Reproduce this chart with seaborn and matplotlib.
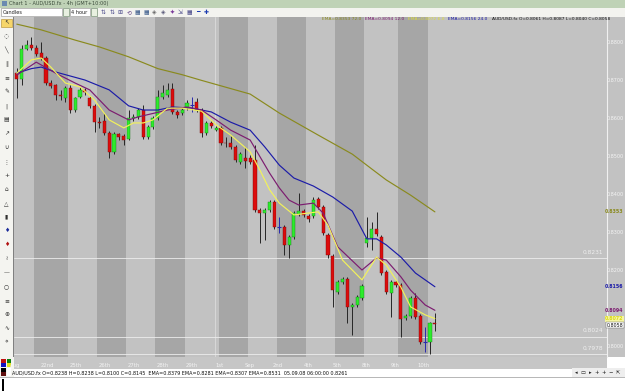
import numpy as np
import pandas as pd
import matplotlib
matplotlib.use("Agg")
import matplotlib.pyplot as plt
import seaborn as sns
from matplotlib.patches import Rectangle

# ---------------- data ----------------
opens = [0.8718, 0.8703, 0.8782, 0.8792, 0.8784, 0.8771, 0.8758, 0.8692, 0.8687, 0.8661,
         0.8653, 0.8679, 0.8621, 0.8655, 0.8674, 0.8653, 0.8632, 0.8589, 0.8592, 0.8561,
         0.8511, 0.8558, 0.8553, 0.8545, 0.8600, 0.8603, 0.8621, 0.8550, 0.8576, 0.8600,
         0.8655, 0.8661, 0.8676, 0.8616, 0.8613, 0.8626, 0.8634, 0.8642, 0.8621, 0.8561,
         0.8587, 0.8568, 0.8574, 0.8534, 0.8534, 0.8524, 0.8484, 0.8495, 0.8495, 0.8489,
         0.8358, 0.8350, 0.8358, 0.8379, 0.8313, 0.8313, 0.8266, 0.8287, 0.8347, 0.8355,
         0.8342, 0.8342, 0.8387, 0.8366, 0.8292, 0.8237, 0.8142, 0.8168, 0.8176, 0.8103,
         0.8108, 0.8126, 0.8271, 0.8284, 0.8308, 0.8287, 0.8195, 0.8139, 0.8168, 0.8161,
         0.8074, 0.8079, 0.8126, 0.8079, 0.8011, 0.8011, 0.8061]
highs = [0.8732, 0.8792, 0.8805, 0.8813, 0.8792, 0.8800, 0.8763, 0.8700, 0.8689, 0.8674,
         0.8684, 0.8687, 0.8655, 0.8682, 0.8679, 0.8658, 0.8637, 0.8603, 0.8613, 0.8566,
         0.8563, 0.8561, 0.8558, 0.8621, 0.8611, 0.8626, 0.8634, 0.8582, 0.8605, 0.8674,
         0.8687, 0.8692, 0.8692, 0.8621, 0.8626, 0.8647, 0.8655, 0.8653, 0.8626, 0.8592,
         0.8592, 0.8579, 0.8579, 0.8550, 0.8553, 0.8529, 0.8511, 0.8524, 0.8503, 0.8529,
         0.8363, 0.8363, 0.8384, 0.8384, 0.8339, 0.8318, 0.8292, 0.8355, 0.8403, 0.8361,
         0.8347, 0.8392, 0.8392, 0.8371, 0.8297, 0.8242, 0.8174, 0.8182, 0.8182, 0.8113,
         0.8134, 0.8163, 0.8339, 0.8326, 0.8353, 0.8292, 0.8200, 0.8174, 0.8174, 0.8166,
         0.8084, 0.8132, 0.8139, 0.8084, 0.8050, 0.8063, 0.8087]
lows = [0.8653, 0.8687, 0.8779, 0.8779, 0.8763, 0.8753, 0.8687, 0.8679, 0.8647, 0.8647,
        0.8642, 0.8613, 0.8616, 0.8653, 0.8661, 0.8626, 0.8563, 0.8574, 0.8555, 0.8495,
        0.8505, 0.8542, 0.8529, 0.8542, 0.8592, 0.8597, 0.8545, 0.8545, 0.8571, 0.8595,
        0.8650, 0.8655, 0.8611, 0.8600, 0.8608, 0.8621, 0.8616, 0.8616, 0.8550, 0.8555,
        0.8574, 0.8566, 0.8529, 0.8524, 0.8518, 0.8484, 0.8479, 0.8468, 0.8479, 0.8353,
        0.8271, 0.8279, 0.8353, 0.8308, 0.8297, 0.8239, 0.8232, 0.8282, 0.8342, 0.8339,
        0.8326, 0.8337, 0.8361, 0.8292, 0.8232, 0.8103, 0.8137, 0.8163, 0.8061, 0.8029,
        0.8103, 0.8121, 0.8261, 0.8253, 0.8289, 0.8187, 0.8137, 0.8076, 0.8155, 0.8024,
        0.8068, 0.8074, 0.8071, 0.8005, 0.7985, 0.7980, 0.8040]
closes = [0.8703, 0.8782, 0.8792, 0.8784, 0.8768, 0.8758, 0.8692, 0.8684, 0.8661, 0.8659,
          0.8679, 0.8621, 0.8653, 0.8674, 0.8668, 0.8632, 0.8589, 0.8587, 0.8561, 0.8511,
          0.8558, 0.8550, 0.8542, 0.8600, 0.8603, 0.8621, 0.8550, 0.8576, 0.8600, 0.8655,
          0.8666, 0.8674, 0.8616, 0.8608, 0.8621, 0.8639, 0.8634, 0.8621, 0.8561, 0.8587,
          0.8579, 0.8574, 0.8534, 0.8533, 0.8524, 0.8489, 0.8505, 0.8487, 0.8484, 0.8358,
          0.8350, 0.8358, 0.8379, 0.8313, 0.8313, 0.8266, 0.8287, 0.8350, 0.8355, 0.8345,
          0.8334, 0.8384, 0.8366, 0.8297, 0.8239, 0.8147, 0.8168, 0.8176, 0.8103, 0.8108,
          0.8129, 0.8158, 0.8284, 0.8308, 0.8295, 0.8192, 0.8142, 0.8168, 0.8161, 0.8071,
          0.8079, 0.8126, 0.8076, 0.8011, 0.8011, 0.8061, 0.8058]

# EMA lines (bar index, value)
ema72_idx = [0, 5, 12, 17, 23, 29, 34, 38, 48, 54, 58, 62, 69, 73, 76, 81, 86]
ema72_val = [0.8847, 0.8832, 0.8805, 0.8787, 0.8761, 0.8730, 0.8714, 0.8699, 0.8663,
             0.8613, 0.8584, 0.8555, 0.8505, 0.8466, 0.8437, 0.8397, 0.8353]
ema24_idx = [0, 3, 5, 8, 14, 19, 23, 26, 29, 32, 36, 40, 44, 48, 51, 54, 57, 61, 65,
             69, 72, 74, 76, 79, 82, 86]
ema24_val = [0.8718, 0.8730, 0.8734, 0.8721, 0.8700, 0.8674, 0.8632, 0.8621, 0.8621,
             0.8629, 0.8626, 0.8616, 0.8589, 0.8568, 0.8524, 0.8476, 0.8442, 0.8421,
             0.8392, 0.8355, 0.8282, 0.8282, 0.8266, 0.8234, 0.8192, 0.8156]
ema12_idx = [0, 4, 8, 12, 15, 19, 23, 25, 31, 35, 38, 41, 44, 48, 52, 54, 56, 58, 61,
             63, 66, 71, 74, 76, 79, 81, 84, 86]
ema12_val = [0.8713, 0.8747, 0.8718, 0.8692, 0.8674, 0.8621, 0.8595, 0.8603, 0.8621,
             0.8629, 0.8621, 0.8595, 0.8568, 0.8542, 0.8455, 0.8416, 0.8384, 0.8371,
             0.8376, 0.8350, 0.8261, 0.8200, 0.8232, 0.8226, 0.8182, 0.8147, 0.8108, 0.8094]
ema6_idx = [0, 3, 5, 7, 10, 13, 16, 19, 22, 24, 26, 28, 31, 34, 38, 41, 44, 48, 50, 52,
            54, 57, 60, 62, 64, 67, 71, 74, 76, 79, 81, 84, 86]
ema6_val = [0.8718, 0.8753, 0.8758, 0.8734, 0.8692, 0.8682, 0.8647, 0.8595, 0.8574,
            0.8587, 0.8587, 0.8595, 0.8626, 0.8626, 0.8618, 0.8582, 0.8555, 0.8511,
            0.8463, 0.8411, 0.8376, 0.8345, 0.8350, 0.8353, 0.8318, 0.8226, 0.8174,
            0.8234, 0.8213, 0.8155, 0.8103, 0.8082, 0.8072]

ema_names = ["EMA 72", "EMA 24", "EMA 12", "EMA 6"]
ema_periods = ["72.0", "24.0", "12.0", "6.0"]
ema_colors = ["#8a8a1e", "#1c1ca8", "#7c1c70", "#f2f25a"]

# day shading (bar-index boundaries of alternate days)
dark_days = [(3.5, 10.5), (16.5, 22.5), (28.5, 34.5), (41.5, 47.5), (53.5, 59.5),
             (65.5, 71.5), (78.5, 84.5)]
day_labels = ["Aug", "22nd", "25th", "26th", "27th", "28th", "29th", "1st", "Sep",
              "2nd", "4th", "5th", "8th", "9th", "10th"]
day_label_idx = [-0.4, 6.2, 12.1, 18.1, 24.1, 30.0, 36.0, 41.8, 47.9, 53.7, 59.9,
                 65.8, 71.8, 77.8, 83.7]
hlines_levels = [0.8231, 0.8024, 0.7978]
price_ticks = [0.80, 0.82, 0.83, 0.84, 0.85, 0.86, 0.87, 0.88]

# ---------------- figure ----------------
sns.set_theme(style="white")
plt.rcParams['font.family'] = ['DejaVu Sans', 'Noto Sans', 'Noto Sans CJK SC']

W, H = 625, 391
def fx(x): return x / W
def fy(y): return 1 - y / H

fig = plt.figure(figsize=(6.25, 3.91), dpi=100, facecolor="#ffffff")

def frect(x0, y0, x1, y1, color, z=0.1, **kw):
    fig.add_artist(Rectangle((fx(x0), fy(y1)), fx(x1) - fx(x0), fy(y0) - fy(y1),
                             transform=fig.transFigure, facecolor=color, zorder=z,
                             edgecolor=kw.get("ec", "none"), lw=kw.get("lw", 0)))

# window chrome
frect(0, 0, 625, 7.5, "#bfd2b6")
fig.text(fx(9), fy(3.8), "Chart 1 - AUD/USD.fx - 4h (GMT+10:00)", fontsize=3.6,
         color="#3a4a3a", va="center", ha="left", zorder=0.2)
frect(2, 1.5, 7, 6, "#6a8ab0")
frect(0, 7.5, 625, 17, "#f3f3ef")
frect(1, 8.5, 62, 16, "#ffffff", ec="#8a8a8a", lw=0.4)
fig.text(fx(3), fy(12.3), "Candles", fontsize=3.6, color="#202020", va="center", zorder=0.2)
frect(63, 8.5, 69, 16, "#e8f0e0", ec="#5a7a5a", lw=0.4)
frect(70, 8.5, 90, 16, "#ffffff", ec="#8a8a8a", lw=0.4)
fig.text(fx(71), fy(12.3), "4 hour", fontsize=3.6, color="#202020", va="center", zorder=0.2)
frect(91, 8.5, 97, 16, "#e8f0e0", ec="#5a7a5a", lw=0.4)
icons = ["⇅", "⇅", "⊞", "⟲", "▦", "▦", "◈", "◈", "✦", "⇲", "▦", "━", "✚"]
icon_cols = ["#4a4a8a", "#4a4a8a", "#4a4a8a", "#6a4a8a", "#3a5a8a", "#3a5a8a", "#6a6a6a",
             "#5a5a7a", "#7a3a9a", "#4a4a8a", "#4a4a8a", "#1a3ab0", "#1a3ab0"]
for k, (ic, cc) in enumerate(zip(icons, icon_cols)):
    fig.text(fx(103 + k * 8.6), fy(12.3), ic, fontsize=4.2, color=cc,
             va="center", ha="center", zorder=0.2)

# left toolbar
frect(0, 17, 13.5, 357, "#f4f4f0")
frect(13.2, 17, 13.8, 357, "#808080")
frect(1.5, 18.5, 11.5, 27, "#f6d66a", ec="#b08a2a", lw=0.4)
tools = ["↖", "◌", "╲", "∥", "≡", "✎", "|", "▤", "↗", "∪", "⋮", "+", "⌂", "△", "▮",
         "♦", "♦", "≀", "—", "○", "≡", "⊕", "∿", "⋄"]
for k, t in enumerate(tools):
    fig.text(fx(6.5), fy(22.5 + k * 13.9), t, fontsize=4.2,
             color="#b01010" if k == 16 else ("#1a2a9a" if k == 15 else "#303030"),
             va="center", ha="center", zorder=0.2)

# right price strip and x strip
frect(607, 17, 625, 357, "#c2c2c2")
frect(13.8, 357, 607, 368, "#c6c6c6")
frect(10, 368, 572, 377, "#ffffff", ec="#9a9a9a", lw=0.4)
frect(572, 368, 625, 377, "#eeeeee")
frect(0, 377, 625, 391, "#ffffff")
frect(0, 377, 625, 378.2, "#b8b8b8")
frect(2, 379, 3.6, 391, "#000000")
sw = [("#c01010", "#108010"), ("#1010c0", "#e0e020"), ("#000000", "#ffffff"),
      ("#601010", "#ffffff")]
frect(0, 357, 13.8, 377, "#f4f4f0")
for r, (c1, c2) in enumerate(sw):
    frect(1, 358.5 + r * 4.5, 5.5, 362.5 + r * 4.5, c1)
    frect(6.5, 358.5 + r * 4.5, 11, 362.5 + r * 4.5, c2)
fig.text(fx(12), fy(372.8),
         "AUD/USD.fx O=0.8238 H=0.8238 L=0.8100 C=0.8145  EMA=0.8379 EMA=0.8281 "
         "EMA=0.8307 EMA=0.8531  05.09.08 06:00:00 0.8261",
         fontsize=3.5, color="#101010", va="center", ha="left", zorder=0.2)
for k, s in enumerate(["◂", "▭", "▸", "+", "+", "−", "⇱"]):
    fig.text(fx(576 + k * 7), fy(372.6), s, fontsize=3.8, color="#202020",
             va="center", ha="center", zorder=0.2)

# ---------------- main chart ----------------
ax = fig.add_axes([fx(13.8), fy(357), fx(607) - fx(13.8), fy(17) - fy(357)])
ax.set_zorder(5)
ax.set_facecolor("#c2c2c2")
for s in ax.spines.values():
    s.set_visible(False)
ax.spines["right"].set_visible(True)
ax.spines["right"].set_color("#f0f0f0")
ax.spines["right"].set_linewidth(0.8)

for lo, hi in dark_days:
    ax.axvspan(lo, hi, color="#a6a6a6", lw=0, zorder=0)
ax.axvline(40.7, color="#dcdcdc", lw=0.6, zorder=0.5)

for lv in hlines_levels:
    ax.axhline(lv, color="#ececec", lw=0.6, zorder=0.6)
    ax.text(0.994, lv + 0.0009, f"{lv:.4f}", transform=ax.get_yaxis_transform(),
            fontsize=4.2, color="#efefef", ha="right", va="bottom")

n = len(opens)
idx = np.arange(n)
o = np.array(opens); h = np.array(highs); l = np.array(lows); c = np.array(closes)
up = c > o
dn = c < o
dj = c == o
ax.vlines(idx[~dj], l[~dj], h[~dj], color="#262626", lw=0.7, zorder=2)
ax.vlines(idx[dj], l[dj], h[dj], color="#2a2ab0", lw=0.7, zorder=2)
ax.bar(idx[up], c[up] - o[up], bottom=o[up], width=0.64, color="#2cec2c",
       edgecolor="#1a7a1a", lw=0.3, zorder=3)
ax.bar(idx[dn], o[dn] - c[dn], bottom=c[dn], width=0.64, color="#dc0c0c",
       edgecolor="#7a0a0a", lw=0.3, zorder=3)
ax.hlines(o[dj], idx[dj] - 0.4, idx[dj] + 0.4, color="#2a2ab0", lw=0.8, zorder=3)

rows = []
for name, ix, vals in zip(ema_names, [ema72_idx, ema24_idx, ema12_idx, ema6_idx],
                          [ema72_val, ema24_val, ema12_val, ema6_val]):
    for a, b in zip(ix, vals):
        rows.append({"bar": a, "value": b, "ema": name})
df = pd.DataFrame(rows)
sns.lineplot(data=df, x="bar", y="value", hue="ema", palette=dict(zip(ema_names, ema_colors)),
             lw=0.85, legend=False, ax=ax, sort=False, estimator=None, zorder=4)

ax.set_xlim(-0.62, 121.4)
ax.set_ylim(0.79711, 0.88658)
ax.set_xlabel("")
ax.set_ylabel("")
ax.set_xticks([])
ax.yaxis.tick_right()
ax.set_yticks(price_ticks)
ax.set_yticklabels([f"{t:.4f}" for t in price_ticks])
ax.tick_params(axis="y", length=0, pad=12.0, labelsize=3.5, labelcolor="#f4f4f4")
for lab in ax.get_yticklabels():
    lab.set_horizontalalignment("right")

# day labels below plot
for lab, xi in zip(day_labels, day_label_idx):
    ax.text(xi, -0.024, lab, transform=ax.get_xaxis_transform(), fontsize=3.8,
            color="#f2f2f2", ha="center", va="center", clip_on=False)

# header row with EMA values
last_vals = [ema72_val[-1], ema12_val[-1], ema6_val[-1], ema24_val[-1]]
hdr_cols = [ema_colors[0], ema_colors[2], "#dede3a", ema_colors[1]]
hdr_per = [ema_periods[0], ema_periods[2], ema_periods[3], ema_periods[1]]
hx = [322, 365, 408, 448]
for v, col, per, x in zip(last_vals, hdr_cols, hdr_per, hx):
    ax.text((x - 13.8) / (607 - 13.8), 0.993, f"EMA={v:.4f} {per}",
            transform=ax.transAxes, fontsize=3.2, color=col, ha="left", va="center")
ax.text((492 - 13.8) / (607 - 13.8), 0.993,
        f"AUD/USD.fx O={opens[-1]:.4f} H={highs[-1]:.4f} L={lows[-1]:.4f} C={closes[-1]:.4f}",
        transform=ax.transAxes, fontsize=3.2, color="#141414", ha="left", va="center")

# right-side value tags (right-aligned inside the price strip)
tr = ax.get_yaxis_transform()
xr = (623.5 - 13.8) / (607 - 13.8)
tag_kw = dict(transform=tr, fontsize=3.4, ha="right", va="center", clip_on=False)
ax.text(xr, ema72_val[-1], f"{ema72_val[-1]:.4f}", color="#8a8a1e",
        fontweight="bold", **tag_kw)
ax.text(xr, ema24_val[-1], f"{ema24_val[-1]:.4f}", color="#1c1ca8",
        fontweight="bold", **tag_kw)
ax.text(xr, ema12_val[-1], f"{ema12_val[-1]:.4f}", color="#7c1c70",
        fontweight="bold", **tag_kw)
ax.text(xr, ema6_val[-1], f"{ema6_val[-1]:.4f}", color="#d8d818", fontweight="bold",
        bbox=dict(boxstyle="square,pad=0.1", fc="#f6f6a0", ec="none"), **tag_kw)
ax.text(xr, closes[-1] - 0.0003, f"{closes[-1]:.4f}", color="#101010",
        bbox=dict(boxstyle="square,pad=0.1", fc="#ffffff", ec="#606060", lw=0.3), **tag_kw)

fig.savefig("out.png", dpi=100, facecolor=fig.get_facecolor())
